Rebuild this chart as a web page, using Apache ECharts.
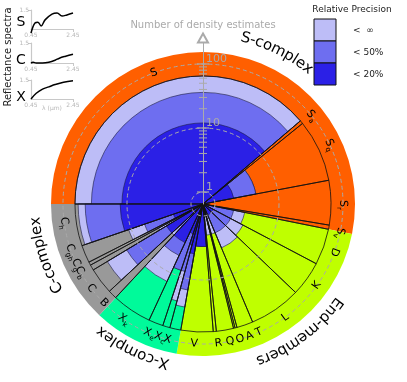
<!DOCTYPE html>
<html><head><meta charset="utf-8">
<script src="https://cdn.jsdelivr.net/npm/echarts@6/dist/echarts.min.js"></script>
<style>html,body{margin:0;padding:0;background:#fff}#c{width:407px;height:382px}</style>
</head><body><div id="c"></div>
<script>
// ---------------- DATA ----------------
const classNames = ['S','Sa','Sq','Sr','Sv','D','K','L','T','A','O','Q','R','V','X','Xc','Xe','Xk','B','C','Cb','Cg','Cgh','Ch'];
const classGroup = [0,0,0,0,0,1,1,1,1,1,1,1,1,1,2,2,2,2,3,3,3,3,3,3];
const classSpan  = [139.5,1.5,28.3,20.2,1.9,16.4,15.9,23.5,7.4,0.9,0.7,7.8,1.4,14.6,5,3.3,6.6,18.1,4,12,2.5,1.5,8,19];
const nTotal   = [65,1,4.5,0,0,3,3.3,3.6,2,1,1,2,1,3,28,24,8,14,3,36,4,3,11,58];
const nBelow50 = [36,0,4.5,0,0,2,2,2,1,1,0,1,1,3,15,8,8,5,2,16,2,1,6,45];
const nBelow20 = [12,0,2,0,0,0,1,1,0,0,0,1,1,3,4,3,2,3,1,3,1,1,2,12.8];
const groupNames = ['S-complex','End-members','X-complex','C-complex'];
const radialTickLabels = [1,10,100];
const radialMinorTicks = [2,3,4,5,6,7,8,9,20,30,40,50,60,70,80,90];
const specWave = {S:[0.45,0.64,0.78,0.93,1.12,1.45,1.69,1.93,2.16,2.45],
                  C:[0.45,0.55,0.7,1.0,1.3,1.6,1.8,2.1,2.45],
                  X:[0.45,0.7,1.0,1.3,1.6,2.0,2.45]};
const specRefl = {S:[0.89,1.16,1.18,1.08,1.24,1.39,1.42,1.34,1.37,1.42],
                  C:[1.0,1.02,1.0,1.0,1.02,1.07,1.12,1.17,1.22],
                  X:[1.0,1.15,1.26,1.32,1.38,1.44,1.48]};
const legendLabels = ['<  \u221e','< 50%','< 20%'];

// ---------------- LAYOUT / STYLE ----------------
const START = 270;                 // compass angle where the first class starts
const gCol = ['#FF5F00','#BFFF00','#00FA9A','#999999'];
const pale='#BDBDF7', medium='#6E6EF0', dark='#2B20E6';
const R_MIN = 0.6494, R_MAX = 254.7; // radial log axis extent
const BG_V = 154, OUT_V = 65, LABEL_V = 100;
const classLabelAngle = [339.5,51,65,90.4,102,110,125.6,144,156.4,160.6,164.6,168.8,173.7,183.6,194.7,198,202.5,214.4,225,233,240.8,244.3,249.9,262.2];
const groupLabel = [{a:26,r:171},{a:143,r:166},{a:206,r:163},{a:252,r:168}];

const a0 = [], a1 = [];
let acc = START;
classSpan.forEach((s,i)=>{a0.push(acc); acc+=s; a1.push(acc);});
const gA0=[],gA1=[];
classGroup.forEach((g,i)=>{ if(gA0[g]===undefined) gA0[g]=a0[i]; gA1[g]=a1[i]; });

function sector(params, api, s0, s1, v, style){
  const cs = params.coordSys, cx = cs.cx, cy = cs.cy;
  const p0 = api.coord([v, s0]), p1 = api.coord([v, s1]);
  const r = Math.hypot(p0[0]-cx, p0[1]-cy);
  const st = Math.atan2(p0[1]-cy, p0[0]-cx);
  let d = Math.atan2(p1[1]-cy, p1[0]-cx) - st;
  while (d <= 1e-9) d += 2*Math.PI;
  return {type:'sector', shape:{cx, cy, r0:0, r, startAngle:st, endAngle:st+d, clockwise:true}, style};
}
function sectorSeries(name, data, styleFn, z){
  return {type:'custom', name, coordinateSystem:'polar', z, silent:true,
    dimensions:['a0','a1','v','i'], encode:{angle:0, radius:2}, data,
    renderItem:(params, api)=>{ const d = data[params.dataIndex]; return sector(params, api, d[0], d[1], d[2], styleFn(d)); }};
}
const bgData = gA0.map((s,g)=>[s, gA1[g], BG_V, g]);
const outlineData = classNames.map((n,i)=>[a0[i], a1[i], OUT_V, i]);
const paleData = classNames.map((n,i)=>[a0[i], a1[i], nTotal[i], i]).filter(d=>d[2]>0);
const medData  = classNames.map((n,i)=>[a0[i], a1[i], nBelow50[i], i]).filter(d=>d[2]>0);
const darkData = classNames.map((n,i)=>[a0[i], a1[i], nBelow20[i], i]).filter(d=>d[2]>0);
const barStroke = {stroke:'#1a1a40', lineWidth:0.6};

function richLabel(name){
  if (name.length===1) return '{m|'+name+'}';
  return '{m|'+name[0]+'}{s|'+name.slice(1)+'}';
}
const labRich = {m:{fontSize:11, fontFamily:'DejaVu Sans', lineHeight:15, verticalAlign:'middle', fill:'#000'},
                 s:{fontSize:7, fontFamily:'DejaVu Sans', lineHeight:8, verticalAlign:'bottom', fill:'#000'}};
const measureCtx = document.createElement('canvas').getContext('2d');

const series = [
  sectorSeries('bg', bgData, d=>({fill:gCol[d[3]]}), 1),
  sectorSeries('pale', paleData, d=>Object.assign({fill:pale}, barStroke), 2),
  sectorSeries('medium', medData, d=>Object.assign({fill:medium}, barStroke), 3),
  sectorSeries('dark', darkData, d=>Object.assign({fill:dark}, barStroke), 4),
  sectorSeries('outline', outlineData, d=>({fill:'none', stroke:'#111', lineWidth:0.8}), 5),
  {
    type:'custom', coordinateSystem:'polar', z:7, silent:true,
    dimensions:['v','a'], encode:{radius:0, angle:1},
    data: radialTickLabels.map(v=>[v,0]),
    renderItem:(params, api)=>{
      const cs = params.coordSys;
      const v = radialTickLabels[params.dataIndex];
      const p = api.coord([v,0]);
      const r = cs.cy - p[1];
      return {type:'group', children:[
        {type:'circle', shape:{cx:cs.cx, cy:cs.cy, r}, style:{fill:'none', stroke:'#aaaaaa', lineWidth:1, lineDash:[4,3]}},
        {type:'line', shape:{x1:p[0]-6, y1:p[1], x2:p[0]+6, y2:p[1]}, style:{stroke:'#aaaaaa', lineWidth:1.2}},
        {type:'text', x:p[0]+3, y:p[1]+1, style:{text:String(v), fill:'#aaaaaa', fontSize:11, fontFamily:'DejaVu Sans', align:'left', verticalAlign:'bottom'}}
      ]};
    }
  },
  {
    type:'custom', coordinateSystem:'polar', z:7, silent:true,
    dimensions:['v','a'], encode:{radius:0, angle:1},
    data: radialMinorTicks.map(v=>[v,0]),
    renderItem:(params, api)=>{
      const p = api.coord([radialMinorTicks[params.dataIndex],0]);
      return {type:'line', shape:{x1:p[0]-4, y1:p[1], x2:p[0]+4, y2:p[1]}, style:{stroke:'#aaaaaa', lineWidth:1}};
    }
  },
  {
    type:'custom', coordinateSystem:'polar', z:8, silent:true,
    dimensions:['v','a'], encode:{radius:0, angle:1},
    data: classNames.map((n,i)=>[LABEL_V, classLabelAngle[i]]),
    renderItem:(params, api)=>{
      const i = params.dataIndex, th = classLabelAngle[i];
      const p = api.coord([LABEL_V, th]);
      let rot = th;
      if (th > 118 && th < 270) rot = th - 180;
      return {type:'text', x:p[0], y:p[1], rotation:-rot*Math.PI/180,
        style:{text:richLabel(classNames[i]), rich:labRich, align:'center', verticalAlign:'middle'}};
    }
  },
  {
    type:'custom', coordinateSystem:'polar', z:8, silent:true,
    dimensions:['v','a'], encode:{radius:0, angle:1},
    data: groupNames.map((n,g)=>[BG_V, groupLabel[g].a]),
    renderItem:(params, api)=>{
      const g = params.dataIndex, cs = params.coordSys;
      const txt = groupNames[g], R = groupLabel[g].r, fs = 15;
      measureCtx.font = fs+'px "DejaVu Sans"';
      const ws = [...txt].map(ch=>measureCtx.measureText(ch).width);
      const W = ws.reduce((a,b)=>a+b,0);
      let cum = 0; const children = [];
      [...txt].forEach((ch,k)=>{
        const th = groupLabel[g].a*Math.PI/180 + (cum + ws[k]/2 - W/2)/R;
        cum += ws[k];
        children.push({type:'text', x:cs.cx + R*Math.sin(th), y:cs.cy - R*Math.cos(th), rotation:-th,
          style:{text:ch, fontSize:fs, fontFamily:'DejaVu Sans', fill:'#000', align:'center', verticalAlign:'middle'}});
      });
      return {type:'group', children};
    }
  }
];

const panels = ['S','C','X'];
const panelTop = [10,43,80], panelH = [19,20,19];
const grids = panels.map((p,k)=>({left:31, top:panelTop[k], width:42, height:panelH[k]}));
const xAxes = panels.map((p,k)=>({gridIndex:k, type:'value', min:0.45, max:2.45,
  axisLine:{lineStyle:{color:'#c8c8c8', width:1.2}}, splitLine:{show:false},
  axisTick:{show:true, customValues:[2.45], length:3, lineStyle:{color:'#c8c8c8'}},
  axisLabel:{customValues:[0.45,2.45], fontSize:6, color:'#b8b8b8', margin:3, fontFamily:'DejaVu Sans', formatter:v=>v.toFixed(2)}}));
const yAxes = panels.map((p,k)=>({gridIndex:k, type:'value', min:1, max:1.5,
  axisLine:{show:true, lineStyle:{color:'#c8c8c8', width:1.2}}, splitLine:{show:false},
  axisTick:{show:true, customValues:[1.5], length:3, lineStyle:{color:'#c8c8c8'}},
  axisLabel:{customValues:[1.5], fontSize:6, color:'#b8b8b8', margin:2, fontFamily:'DejaVu Sans'}}));
panels.forEach((p,k)=>{
  series.push({type:'line', xAxisIndex:k, yAxisIndex:k, data:specWave[p].map((w,j)=>[w, specRefl[p][j]]),
    smooth:0.4, showSymbol:false, clip:false, lineStyle:{color:'#000', width:1.5}, z:3, silent:true});
});

const graphic = [
  {type:'text', x:8, y:57, rotation:Math.PI/2, style:{text:'Reflectance spectra', fontSize:10, fontFamily:'DejaVu Sans', fill:'#222', align:'center', verticalAlign:'middle'}},
  {type:'text', x:21, y:22, style:{text:'S', fontSize:14, fontFamily:'DejaVu Sans', fill:'#000', align:'center', verticalAlign:'middle'}},
  {type:'text', x:21, y:60, style:{text:'C', fontSize:14, fontFamily:'DejaVu Sans', fill:'#000', align:'center', verticalAlign:'middle'}},
  {type:'text', x:21, y:97, style:{text:'X', fontSize:14, fontFamily:'DejaVu Sans', fill:'#000', align:'center', verticalAlign:'middle'}},
  {type:'text', x:52, y:108, style:{text:'\u03bb (\u00b5m)', fontSize:6, fontFamily:'DejaVu Sans', fill:'#b8b8b8', align:'center', verticalAlign:'middle'}},
  {type:'text', x:352, y:10, style:{text:'Relative Precision', fontSize:9, fontFamily:'DejaVu Sans', fill:'#222', align:'center', verticalAlign:'middle'}}
];
[pale, medium, dark].forEach((c,k)=>{
  graphic.push({type:'rect', shape:{x:314, y:19+k*22, width:22, height:22}, style:{fill:c, stroke:'#111', lineWidth:1}});
  graphic.push({type:'text', x:353, y:31+k*22, style:{text:legendLabels[k], fontSize:9, fontFamily:'DejaVu Sans', fill:'#222', align:'left', verticalAlign:'middle'}});
});

const chart = echarts.init(document.getElementById('c'), null, {renderer:'canvas'});
chart.setOption({
  animation:false,
  polar:{center:[203,204], radius:166},
  angleAxis:{type:'value', min:0, max:360, startAngle:90, clockwise:true, show:false},
  radiusAxis:{type:'log', logBase:10, min:R_MIN, max:R_MAX, z:7,
    axisLine:{show:true, lineStyle:{color:'#aaaaaa', width:1}, symbol:['none','emptyTriangle'], symbolSize:[10,9]},
    axisTick:{show:false}, axisLabel:{show:false}, splitLine:{show:false},
    name:'Number of density estimates', nameLocation:'end', nameGap:8,
    nameTextStyle:{color:'#aaaaaa', fontSize:10, fontFamily:'DejaVu Sans'}},
  grid:grids, xAxis:xAxes, yAxis:yAxes,
  series, graphic
});
</script></body></html>
